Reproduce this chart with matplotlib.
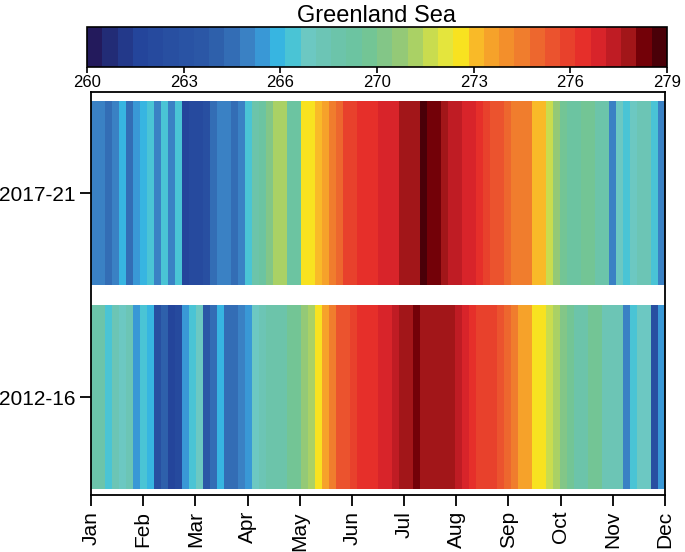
import numpy as np
import matplotlib
matplotlib.use("Agg")
import matplotlib.pyplot as plt
from matplotlib.colors import LinearSegmentedColormap, Normalize

plt.rcParams['font.family'] = ['Liberation Sans', 'DejaVu Sans']

title = "Greenland Sea"
row_labels = ["2012-16", "2017-21"]
months = ["Jan", "Feb", "Mar", "Apr", "May", "Jun", "Jul", "Aug", "Sep", "Oct", "Nov", "Dec"]
cbar_labels = ["260", "263", "266", "270", "273", "276", "279"]
vmin, vmax = 260, 279

# temperature (K), sequential periods through the year
temp_2017_21 = [265.0, 265.4, 264.8, 265.4, 266.3, 264.6, 265.7, 266.1, 266.8, 265.3,
                266.6, 265.0, 266.6, 261.5, 262.3, 262.3, 262.6, 264.8, 265.2, 265.2,
                264.9, 265.0, 266.8, 268.3, 268.5, 269.6, 270.8, 270.8, 268.8, 268.8,
                272.4, 272.4, 272.9, 273.3, 274.1, 274.9, 275.5, 275.6, 276.4, 276.4,
                276.4, 276.5, 276.8, 276.9, 277.5, 277.5, 277.8, 278.7, 278.0, 278.2,
                277.7, 277.4, 277.0, 276.7, 276.5, 276.4, 275.8, 275.3, 275.2, 274.5,
                274.4, 274.2, 274.0, 272.9, 272.5, 271.4, 270.3, 269.0, 268.8, 268.8,
                269.4, 269.4, 268.3, 268.3, 265.0, 267.3, 266.8, 267.3, 267.8, 267.8,
                266.5, 265.3]

temp_2012_16 = [268.3, 268.3, 266.8, 267.5, 267.3, 267.5, 265.7, 266.8, 266.1, 262.8,
                264.1, 261.7, 262.0, 265.7, 266.8, 267.1, 263.8, 264.9, 266.1, 264.6,
                264.9, 265.3, 265.7, 267.1, 267.5, 268.1, 268.3, 268.1, 269.1, 269.4,
                270.3, 270.6, 272.1, 273.1, 274.0, 275.2, 275.2, 275.9, 276.4, 276.4,
                276.4, 276.6, 276.9, 277.2, 277.6, 277.7, 278.1, 277.8, 277.9, 277.9,
                277.6, 277.5, 277.0, 276.8, 276.4, 275.8, 275.6, 275.6, 275.3, 274.8,
                274.1, 273.1, 273.2, 272.4, 272.3, 271.4, 270.5, 269.8, 269.1, 268.3,
                268.3, 269.3, 269.3, 267.8, 267.8, 267.6, 265.0, 266.6, 267.3, 267.3,
                262.8, 265.5]

cmap_anchor_vals = [260.0, 260.6, 261.5, 262.7, 263.6, 264.4, 265.0, 265.5, 266.0, 266.5,
                    267.1, 268.0, 269.0, 269.8, 270.5, 271.0, 271.4, 271.9, 272.4, 272.9,
                    273.5, 274.0, 274.6, 275.0, 275.6, 276.1, 276.6, 277.1, 277.6, 278.1,
                    278.5, 279.0]
cmap_anchor_cols = ['#231a5c', '#222f7a', '#24459b', '#2850a2', '#2b57a6', '#2f65ae',
                    '#3a7cc0', '#3a8fd0', '#35aee3', '#3cc3dc', '#6cc8c4', '#6cc4ae',
                    '#6cc49c', '#84c686', '#9ccb70', '#b4d55c', '#d0de4a', '#e8e63a',
                    '#fbe11b', '#f9b52a', '#f59c2a', '#f28a2c', '#ef762d', '#ec612e',
                    '#ea4c2e', '#e73a2b', '#e52a2a', '#d2222a', '#b81a22', '#9b1416',
                    '#720008', '#4a0008']

pos = [(v - vmin) / (vmax - vmin) for v in cmap_anchor_vals]
cmap = LinearSegmentedColormap.from_list("gs", list(zip(pos, cmap_anchor_cols)), N=38)
norm = Normalize(vmin=vmin, vmax=vmax)

fig = plt.figure(figsize=(6.85, 5.52), dpi=100)
ax = fig.add_axes([91 / 685, 57 / 552, 574 / 685, 403 / 552])
cax = fig.add_axes([87 / 685, (552 - 67) / 552, 580 / 685, 40 / 552])

n = len(temp_2017_21)
xedges = np.linspace(0, 365, n + 1)
rows = [(temp_2012_16, 0.015, 0.471), (temp_2017_21, 0.521, 0.978)]
mesh = None
for vals, y0, y1 in rows:
    mesh = ax.pcolormesh(xedges, [y0, y1], np.array(vals)[None, :], cmap=cmap, norm=norm,
                         shading='flat', edgecolors='none', antialiased=False)

ax.set_xlim(0, 365)
ax.set_ylim(0, 1)
ax.set_xticks(np.linspace(0, 365, 12))
ax.set_xticklabels(months, rotation=90, fontsize=15)
ax.set_yticks([0.243, 0.749])
ax.set_yticklabels(row_labels, fontsize=15)
ax.tick_params(axis='both', direction='out', length=8, width=1.3, colors='black')
for s in ax.spines.values():
    s.set_linewidth(1.3)

cb = fig.colorbar(mesh, cax=cax, orientation='horizontal')
cb.set_ticks(np.linspace(vmin, vmax, 7))
cb.set_ticklabels(cbar_labels)
cb.ax.tick_params(labelsize=12, length=4, width=1.2, direction='out', pad=1.5)
cb.outline.set_linewidth(1.2)
cax.set_title(title, fontsize=17, pad=3)

fig.savefig("out.png", dpi=100)
